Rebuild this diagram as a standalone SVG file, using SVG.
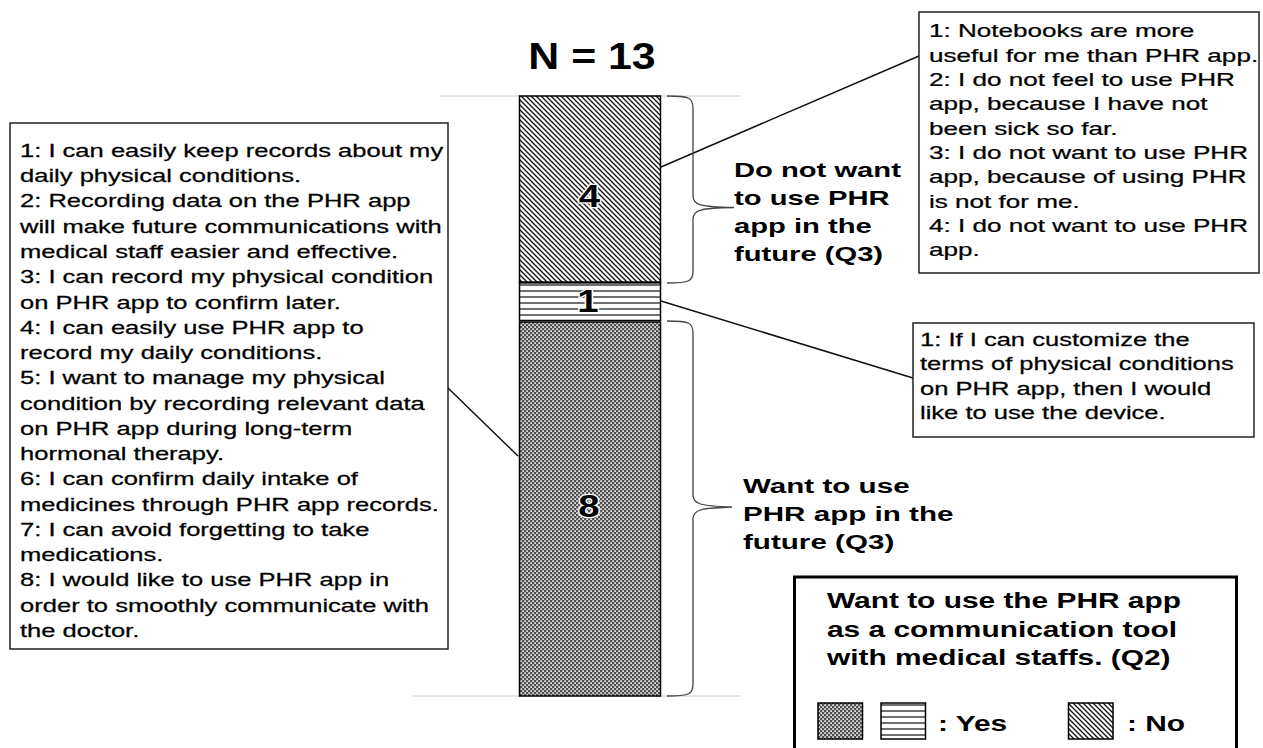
<svg xmlns="http://www.w3.org/2000/svg" width="1263" height="748" viewBox="0 0 1263 748">
<style>
.body{font-family:"Liberation Sans",Arial,sans-serif;font-size:18px;fill:#000;stroke:#000;stroke-width:0.25}
.bold{font-family:"Liberation Sans",Arial,sans-serif;font-weight:bold;fill:#000}
.box{fill:#fff;stroke:#222;stroke-width:1.5}
.conn{stroke:#111;stroke-width:1.5;fill:none}
.brace{stroke:#444;stroke-width:1.3;fill:none}
.guide{stroke:#ccc;stroke-width:1}
.num{font-family:"Liberation Sans",Arial,sans-serif;font-weight:bold;font-size:32px;fill:#000;stroke:#fff;stroke-width:2.5;paint-order:stroke;text-anchor:middle}
</style>
<defs>
<pattern id="pNo" patternUnits="userSpaceOnUse" width="5" height="5">
<rect width="5" height="5" fill="#fff"/>
<path d="M-1,-1 L6,6 M-1,4 L1,6 M4,-1 L6,1" stroke="#111" stroke-width="1.3"/>
</pattern>
<pattern id="pH" patternUnits="userSpaceOnUse" width="10" height="6" y="1">
<rect width="10" height="6" fill="#fff"/>
<path d="M0,2 L10,2" stroke="#111" stroke-width="1.2"/>
</pattern>
<pattern id="pX" patternUnits="userSpaceOnUse" width="4" height="4">
<rect width="4" height="4" fill="#505050"/>
<rect x="0.3" y="0.3" width="1.6" height="1.6" fill="#fff"/>
<rect x="2.3" y="2.3" width="1.6" height="1.6" fill="#fff"/>
</pattern>
</defs>
<rect width="1263" height="748" fill="#fff"/>

<g id="guides">
<line class="guide" x1="440" y1="96" x2="741" y2="96"/>
<line class="guide" x1="413" y1="696" x2="741" y2="696"/>
</g>

<g id="title">
<text class="bold" font-size="36" text-anchor="middle" transform="translate(592,0) scale(1.19,1)" x="0" y="69">N = 13</text>
</g>

<g id="bar">
<g id="seg-no">
<rect x="519.5" y="96" width="141" height="186.5" fill="url(#pNo)" stroke="#000" stroke-width="1.5"/>
<text class="num" transform="translate(589.5,0) scale(1.2,1)" x="0" y="207">4</text>
</g>
<g id="seg-yes1">
<rect x="519.5" y="282.5" width="141" height="38" fill="url(#pH)" stroke="#000" stroke-width="1.5"/>
<line x1="519.5" y1="282.5" x2="660.5" y2="282.5" stroke="#000" stroke-width="2"/>
<text class="num" transform="translate(588,0) scale(1.2,1)" x="0" y="312">1</text>
</g>
<g id="seg-yes8">
<rect x="519.5" y="322" width="141" height="374" fill="url(#pX)" stroke="#000" stroke-width="1.5"/>
<text class="num" transform="translate(589,0) scale(1.2,1)" x="0" y="517">8</text>
</g>
</g>

<g id="connectors">
<line class="conn" x1="661" y1="167" x2="919" y2="56"/>
<line class="conn" x1="661" y1="301" x2="913" y2="378"/>
<line class="conn" x1="448" y1="388" x2="518" y2="456"/>
<path class="brace" d="M667,96 C690,96 693,98 693,108 L693,196 C693,205 700,207 734,207.5 C700,208 693,210 693,219 L693,271 C693,281 690,283 667,283"/>
<path class="brace" d="M667,321 C690,321 693,323 693,333 L693,495 C693,504 700,506 732,507 C700,508 693,510 693,519 L693,684 C693,694 690,696 667,696"/>
</g>

<g id="left-box">
<rect class="box" x="10" y="123" width="438" height="526"/>
<text class="body" transform="translate(20,0) scale(1.42,1)">
<tspan x="0" y="157">1: I can easily keep records about my</tspan>
<tspan x="0" y="182.3">daily physical conditions.</tspan>
<tspan x="0" y="207.5">2: Recording data on the PHR app</tspan>
<tspan x="0" y="232.8">will make future communications with</tspan>
<tspan x="0" y="258">medical staff easier and effective.</tspan>
<tspan x="0" y="283.3">3: I can record my physical condition</tspan>
<tspan x="0" y="308.6">on PHR app to confirm later.</tspan>
<tspan x="0" y="333.8">4: I can easily use PHR app to</tspan>
<tspan x="0" y="359.1">record my daily conditions.</tspan>
<tspan x="0" y="384.3">5: I want to manage my physical</tspan>
<tspan x="0" y="409.6">condition by recording relevant data</tspan>
<tspan x="0" y="434.9">on PHR app during long-term</tspan>
<tspan x="0" y="460.1">hormonal therapy.</tspan>
<tspan x="0" y="485.4">6: I can confirm daily intake of</tspan>
<tspan x="0" y="510.6">medicines through PHR app records.</tspan>
<tspan x="0" y="535.9">7: I can avoid forgetting to take</tspan>
<tspan x="0" y="561.2">medications.</tspan>
<tspan x="0" y="586.4">8: I would like to use PHR app in</tspan>
<tspan x="0" y="611.7">order to smoothly communicate with</tspan>
<tspan x="0" y="637">the doctor.</tspan>
</text>
</g>

<g id="no-reasons-box">
<rect class="box" x="919" y="12" width="340" height="261"/>
<text class="body" transform="translate(929,0) scale(1.45,1)">
<tspan x="0" y="37.5">1: Notebooks are more</tspan>
<tspan x="0" y="61.8">useful for me than PHR app.</tspan>
<tspan x="0" y="86.1">2: I do not feel to use PHR</tspan>
<tspan x="0" y="110.4">app, because I have not</tspan>
<tspan x="0" y="134.7">been sick so far.</tspan>
<tspan x="0" y="159">3: I do not want to use PHR</tspan>
<tspan x="0" y="183.3">app, because of using PHR</tspan>
<tspan x="0" y="207.6">is not for me.</tspan>
<tspan x="0" y="231.9">4: I do not want to use PHR</tspan>
<tspan x="0" y="256.2">app.</tspan>
</text>
</g>

<g id="yes1-reason-box">
<rect class="box" x="913" y="323" width="341" height="114"/>
<text class="body" transform="translate(920,0) scale(1.42,1)">
<tspan x="0" y="346">1: If I can customize the</tspan>
<tspan x="0" y="370.5">terms of physical conditions</tspan>
<tspan x="0" y="395">on PHR app, then I would</tspan>
<tspan x="0" y="419.5">like to use the device.</tspan>
</text>
</g>

<g id="label-no">
<text class="bold" font-size="21" transform="translate(734,0) scale(1.39,1)">
<tspan x="0" y="177">Do not want</tspan>
<tspan x="0" y="205">to use PHR</tspan>
<tspan x="0" y="233">app in the</tspan>
<tspan x="0" y="261">future (Q3)</tspan>
</text>
</g>

<g id="label-yes">
<text class="bold" font-size="21" transform="translate(743,0) scale(1.41,1)">
<tspan x="0" y="493.5">Want to use</tspan>
<tspan x="0" y="521.5">PHR app in the</tspan>
<tspan x="0" y="549">future (Q3)</tspan>
</text>
</g>

<g id="legend">
<rect x="794.5" y="577" width="442" height="190" fill="#fff" stroke="#000" stroke-width="3"/>
<text class="bold" font-size="21.5" transform="translate(827,0) scale(1.39,1)">
<tspan x="0" y="608">Want to use the PHR app</tspan>
<tspan x="0" y="637">as a communication tool</tspan>
<tspan x="0" y="665.5">with medical staffs. (Q2)</tspan>
</text>
<rect x="818" y="703" width="44.5" height="36" fill="url(#pX)" stroke="#000" stroke-width="1.5"/>
<rect x="881" y="703" width="44.5" height="36" fill="url(#pH)" stroke="#000" stroke-width="1.5"/>
<text class="bold" font-size="21.5" transform="translate(938,0) scale(1.39,1)" x="0" y="731">: Yes</text>
<rect x="1068.5" y="703" width="44.5" height="36" fill="url(#pNo)" stroke="#000" stroke-width="1.5"/>
<text class="bold" font-size="21.5" transform="translate(1127,0) scale(1.39,1)" x="0" y="731">: No</text>
</g>
</svg>
